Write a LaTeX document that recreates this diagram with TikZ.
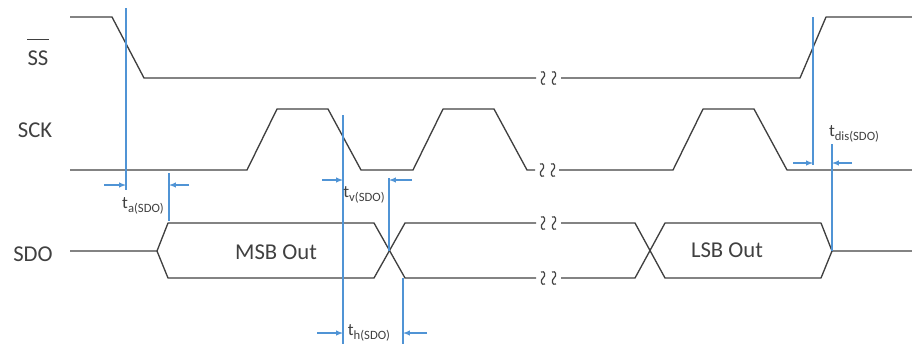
\documentclass[tikz,border=0pt]{standalone}
\usepackage{fontspec}
\setmainfont{Carlito}
\usepackage{xcolor}
\usepackage{tikz}
\usetikzlibrary{arrows}
\definecolor{wire}{RGB}{64,64,64}
\definecolor{guideblue}{RGB}{80,148,213}
\tikzstyle{sig} = [wire,line width=1pt,line join=round]
\tikzstyle{guide} = [guideblue,line width=0.8pt]
\tikzstyle{arrow} = [guideblue,line width=0.8pt,-latex]
\tikzstyle{lbl} = [text=wire,font=\fontsize{17}{20}\selectfont,inner sep=0pt]
\tikzstyle{tlbl} = [text=wire,inner sep=0pt]
% timing label: t with a small subscript
\newcommand{\tsub}[1]{{\fontsize{13}{15}\selectfont t}\raisebox{-3pt}{\fontsize{9.5}{11}\selectfont #1}}
% break mark on a signal: two small wiggles at (#1,#2)
\newcommand{\wig}[2]{%
  \foreach \dx in {0,11}{%
    \draw[sig,line width=0.9pt] (#1+\dx-2,#2-6) .. controls (#1+\dx+2,#2-8) and (#1+\dx+3,#2-2) .. (#1+\dx,#2)
      .. controls (#1+\dx-3,#2+2) and (#1+\dx-2,#2+8) .. (#1+\dx+2,#2+6);
  }}

\begin{document}
\begin{tikzpicture}[x=0.75pt,y=-0.75pt]
	\useasboundingbox (0,0) rectangle (912,344);
	
	% Signal names:
	\node[lbl] (ss) at (38,58.5) {SS};
	\draw[wire,line width=0.8pt] ([yshift=8.3pt]ss.north west) -- ([yshift=8.3pt]ss.north east);
	\node[lbl] (sck) at (35,130) {SCK};
	\node[lbl] (sdo) at (33,254) {SDO};
	
	% SS:
	\draw[sig] (70,17) -- (112,17) -- (144,78) -- (536,78);
	\wig{543}{78}
	\draw[sig] (561,78) -- (800,78) -- (826,17) -- (912,17);
	
	% SCK:
	\draw[sig] (70,170) -- (247,170) -- (277,109) -- (328,109) -- (361,170) -- (413,170)
		-- (443,109) -- (494,109) -- (527,170) -- (535,170);
	\wig{542}{170}
	\draw[sig] (559,170) -- (673,170) -- (703,109) -- (754,109) -- (787,170) -- (912,170);
	
	% SDO:
	\draw[sig] (70,251) -- (157,251) -- (168,223) -- (374,223) -- (405,278) -- (536,278);
	\draw[sig] (157,251) -- (168,278) -- (374,278) -- (405,223) -- (536,223);
	\wig{543}{223}
	\wig{543}{278}
	\draw[sig] (561,223) -- (635,223) -- (665,278) -- (821,278) -- (832,251);
	\draw[sig] (561,278) -- (635,278) -- (665,223) -- (821,223) -- (832,251) -- (912,251);
	\node[lbl] (msb) at (276,252) {MSB Out};
	\node[lbl] (lsb) at (727,250) {LSB Out};
	
	% t_a(SDO):
	\draw[guide] (126,8) -- (126,190);
	\draw[guide] (169,173) -- (169,221);
	\draw[arrow] (104,185) -- (126,185);
	\draw[arrow] (189,185) -- (169,185);
	\node[tlbl] (ta) at (143,206) {\tsub{a(SDO)}};
	
	% t_v(SDO) and t_h(SDO):
	\draw[guide] (343,115) -- (343,344);
	\draw[guide] (389,178) -- (389,251);
	\draw[arrow] (322,180) -- (343,180);
	\draw[arrow] (412,180) -- (389,180);
	\node[tlbl] (tv) at (364,195) {\tsub{v(SDO)}};
	\draw[guide] (403,278) -- (403,344);
	\draw[arrow] (317,333) -- (343,333);
	\draw[arrow] (427,333) -- (403,333);
	\node[tlbl] (th) at (369,333) {\tsub{h(SDO)}};
	
	% t_dis(SDO):
	\draw[guide] (813,17) -- (813,165);
	\draw[guide] (832,144) -- (832,251);
	\draw[arrow] (793,163) -- (813,163);
	\draw[arrow] (852,163) -- (832,163);
	\node[tlbl] (tdis) at (854,134) {\tsub{dis(SDO)}};
\end{tikzpicture}
\end{document}
